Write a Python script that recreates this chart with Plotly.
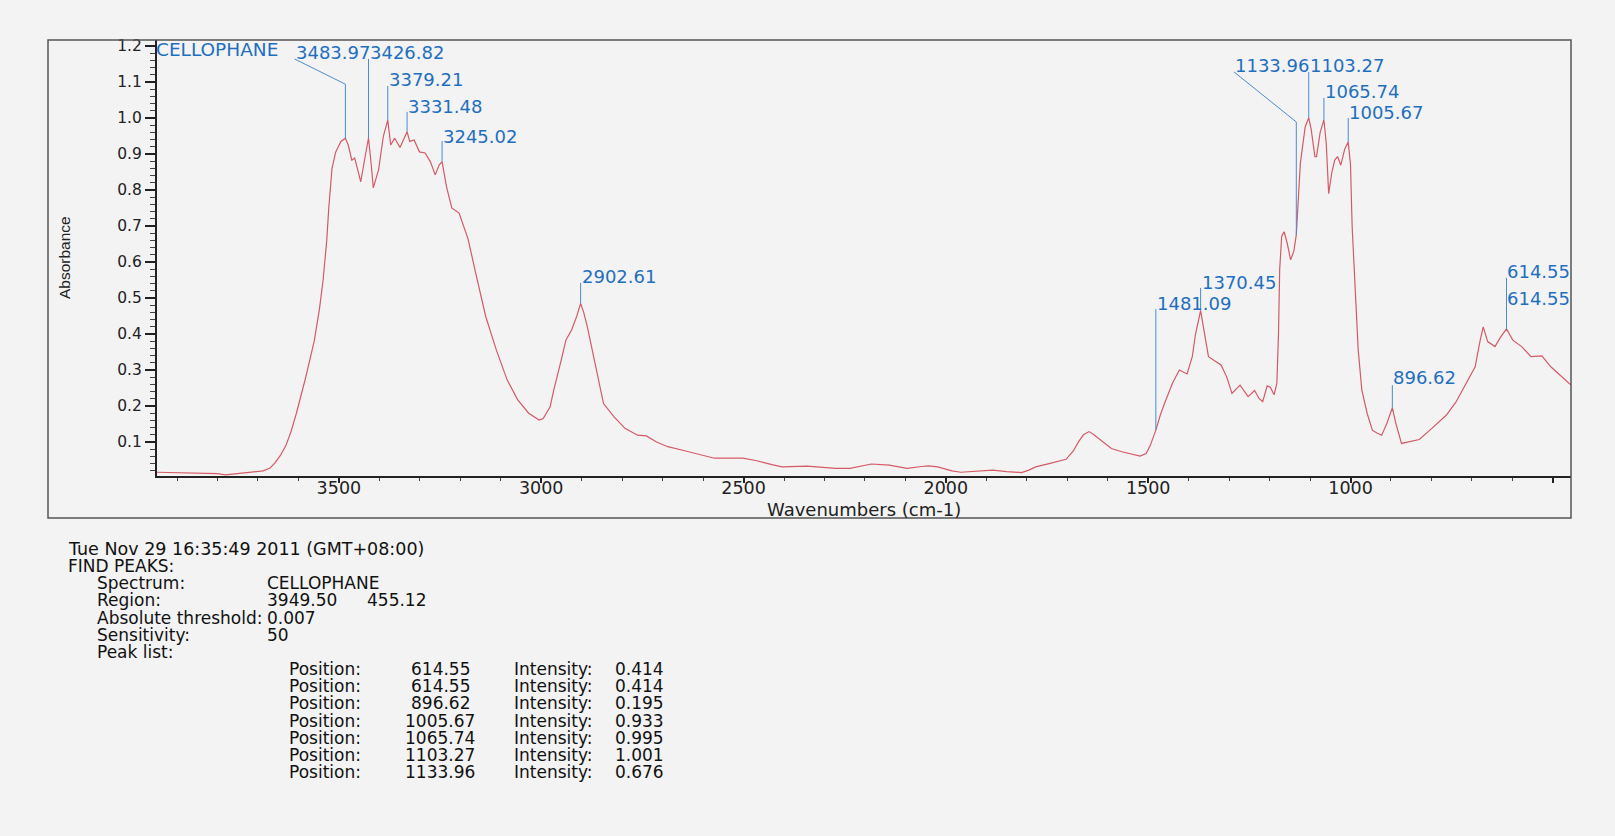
import plotly.graph_objects as go

# ---------------- data ----------------
wavenumber = [3949.5, 3900, 3850, 3800, 3780, 3760, 3737, 3700, 3687, 3670, 3658, 3645, 3631, 3618, 3605,
              3583, 3561, 3548, 3539, 3530, 3525, 3517, 3508, 3495, 3483.97, 3477, 3468, 3461, 3446, 3434,
              3426.82, 3420, 3415, 3402, 3390, 3379.21, 3372, 3362, 3349, 3340, 3331.48, 3325, 3314, 3301,
              3287, 3274, 3262, 3252, 3245.02, 3234, 3221, 3203, 3181, 3163, 3137, 3111, 3084, 3058, 3031,
              3005, 2995, 2978, 2969, 2950, 2939, 2925, 2912, 2902.61, 2895, 2886, 2868, 2846, 2820, 2793,
              2762, 2740, 2715, 2687, 2643, 2600, 2572, 2502, 2467, 2430, 2405, 2343, 2300, 2272, 2237,
              2210, 2184, 2140, 2110, 2096, 2060, 2043, 2020, 2007, 1985, 1963, 1930, 1884, 1850, 1813,
              1795, 1778, 1745, 1718, 1703, 1685, 1672, 1660, 1646, 1635, 1623, 1591, 1565, 1540, 1520,
              1505, 1495, 1481.09, 1470, 1458, 1440, 1423, 1404, 1391, 1383, 1370.45, 1364, 1351, 1335,
              1320, 1306, 1293, 1273, 1253, 1237, 1226, 1217, 1206, 1198, 1189, 1182, 1178, 1175, 1170,
              1164, 1156, 1148, 1140, 1133.96, 1124, 1112, 1103.27, 1097, 1088, 1084, 1075, 1065.74, 1060,
              1054, 1046, 1039, 1032, 1024, 1014, 1005.67, 1000, 996, 990, 985, 981, 972, 959, 946, 935,
              923, 910, 896.62, 888, 874, 852, 830, 799, 763, 740, 714, 692, 680, 672, 661, 643, 630,
              614.55, 599, 577, 554, 540, 527, 505, 479, 455.12]
absorbance = [0.016, 0.015, 0.015, 0.012, 0.009, 0.011, 0.015, 0.017, 0.020, 0.028, 0.042, 0.062, 0.090, 0.130, 0.180,
              0.275, 0.380, 0.470, 0.550, 0.660, 0.750, 0.860, 0.905, 0.935, 0.944, 0.925, 0.883, 0.889, 0.823, 0.900,
              0.944, 0.870, 0.806, 0.856, 0.950, 0.994, 0.925, 0.944, 0.918, 0.940, 0.962, 0.935, 0.939, 0.906,
              0.903, 0.879, 0.842, 0.870, 0.879, 0.809, 0.750, 0.736, 0.665, 0.575, 0.448, 0.356, 0.272, 0.217, 0.180,
              0.161, 0.165, 0.198, 0.244, 0.330, 0.383, 0.411, 0.450, 0.485, 0.460, 0.420, 0.328, 0.207, 0.170, 0.138,
              0.119, 0.117, 0.100, 0.087, 0.075, 0.062, 0.055, 0.055, 0.048, 0.037, 0.031, 0.033, 0.030, 0.027, 0.027,
              0.034, 0.039, 0.036, 0.030, 0.027, 0.032, 0.034, 0.031, 0.027, 0.020, 0.016, 0.018, 0.022, 0.018, 0.015,
              0.022, 0.031, 0.040, 0.047, 0.052, 0.075, 0.101, 0.120, 0.129, 0.121, 0.110, 0.082, 0.073, 0.066, 0.061,
              0.068, 0.090, 0.133, 0.175, 0.212, 0.263, 0.300, 0.289, 0.337, 0.400, 0.465, 0.420, 0.337, 0.325,
              0.314, 0.281, 0.235, 0.258, 0.226, 0.243, 0.221, 0.212, 0.256, 0.252, 0.231, 0.263, 0.400, 0.580, 0.672,
              0.684, 0.650, 0.606, 0.630, 0.676, 0.874, 0.975, 1.001, 0.967, 0.893, 0.893, 0.960, 0.995, 0.930,
              0.790, 0.850, 0.883, 0.893, 0.869, 0.915, 0.933, 0.870, 0.700, 0.550, 0.450, 0.356, 0.244, 0.180, 0.133, 0.125,
              0.119, 0.152, 0.195, 0.152, 0.096, 0.101, 0.107, 0.138, 0.175, 0.210, 0.263, 0.309, 0.380, 0.420, 0.379, 0.365, 0.390,
              0.414, 0.383, 0.365, 0.337, 0.338, 0.339, 0.309, 0.281, 0.258]

peak_pos = [3483.97, 3426.82, 3379.21, 3331.48, 3245.02, 2902.61, 1481.09, 1370.45,
            1133.96, 1103.27, 1065.74, 1005.67, 896.62, 614.55, 614.55]
peak_int = [0.944, 0.944, 0.994, 0.962, 0.879, 0.485, 0.133, 0.465,
            0.676, 1.001, 0.995, 0.933, 0.195, 0.414, 0.414]

x_tick_vals = [3500, 3000, 2500, 2000, 1500, 1000, 500]
x_tick_text = ["3500", "3000", "2500", "2000", "1500", "1000", ""]
y_tick_vals = [0.1, 0.2, 0.3, 0.4, 0.5, 0.6, 0.7, 0.8, 0.9, 1.0, 1.1, 1.2]
y_tick_text = ["0.1", "0.2", "0.3", "0.4", "0.5", "0.6", "0.7", "0.8", "0.9", "1.0", "1.1", "1.2"]

spectrum_name = "CELLOPHANE"
timestamp = "Tue Nov 29 16:35:49 2011 (GMT+08:00)"
region = ["3949.50", "455.12"]
threshold = "0.007"
sensitivity = "50"
table_pos = ["614.55", "614.55", "896.62", "1005.67", "1065.74", "1103.27", "1133.96"]
table_int = ["0.414", "0.414", "0.195", "0.933", "0.995", "1.001", "0.676"]

# ---------------- layout parameters (label placement) ----------------
label_x = [3609.5, 3426.82, 3379.21, 3331.48, 3245.02, 2902.61, 1481.09, 1370.45,
           1287.9, 1103.27, 1065.74, 1005.67, 896.62, 614.55, 614.55]
label_y = [1.181, 1.181, 1.106, 1.031, 0.950, 0.559, 0.486, 0.5425,
           1.147, 1.147, 1.073, 1.014, 0.278, 0.573, 0.500]
leader_top = [1.164, 1.164, 1.089, 1.017, 0.936, 0.542, 0.469, 0.528,
              1.128, 1.128, 1.056, 1.000, 0.258, 0.556, None]
leader_elbow = [1.094, None, None, None, None, None, None, None,
                0.989, None, None, None, None, None, None]

W, H = 1615, 836
L, R, T, B = 157, 1571, 40, 476
X_RANGE = [3949.5, 455.12]
Y_RANGE = [0.0056, 1.2167]

FONT = "DejaVu Sans"
BLUE = "#1f6fbf"
LEADER = "#4a8ccf"
BG = "#f3f3f3"


def px_x(X):
    return (X - L) / (R - L)


def px_y(Y):
    return (B - Y) / (B - T)


fig = go.Figure()
fig.add_trace(go.Scatter(x=wavenumber, y=absorbance, mode="lines",
                         line=dict(color="#d45a66", width=1.2),
                         showlegend=False, hoverinfo="x+y"))

shapes = []
annotations = []

shapes.append(dict(type="rect", xref="paper", yref="paper",
                   x0=px_x(48), x1=1, y0=px_y(518), y1=1,
                   line=dict(color="#555555", width=1.5), fillcolor="rgba(0,0,0,0)"))

for p, v, lx, ly, top, elb in zip(peak_pos, peak_int, label_x, label_y, leader_top, leader_elbow):
    if top is not None:
        if elb is None:
            shapes.append(dict(type="line", xref="x", yref="y", x0=p, x1=p, y0=top, y1=v,
                               line=dict(color=LEADER, width=1)))
        else:
            shapes.append(dict(type="path", xref="x", yref="y",
                               path=f"M {lx},{top} L {p},{elb} L {p},{v}",
                               line=dict(color=LEADER, width=1)))
    annotations.append(dict(x=lx, y=ly, xref="x", yref="y", text=f"{p:.2f}",
                            showarrow=False, xanchor="left", yanchor="middle",
                            borderpad=0, font=dict(family=FONT, size=18, color=BLUE)))

annotations.append(dict(x=px_x(155), y=px_y(50), xref="paper", yref="paper", text=spectrum_name,
                        showarrow=False, xanchor="left", yanchor="middle", borderpad=0,
                        font=dict(family=FONT, size=18.5, color=BLUE)))

annotations.append(dict(x=px_x(64), y=px_y(258), xref="paper", yref="paper", text="Absorbance",
                        textangle=-90, showarrow=False, xanchor="center", yanchor="middle",
                        font=dict(family="Liberation Sans", size=15.5, color="#222222")))
annotations.append(dict(x=px_x(864), y=px_y(509), xref="paper", yref="paper", text="Wavenumbers (cm-1)",
                        showarrow=False, xanchor="center", yanchor="middle",
                        font=dict(family=FONT, size=18, color="#222222")))


def txt(X, Y, s, anchor="left", size=17):
    annotations.append(dict(x=px_x(X), y=px_y(Y), xref="paper", yref="paper", text=s,
                            showarrow=False, xanchor=anchor, yanchor="middle", borderpad=0,
                            font=dict(family=FONT, size=size, color="#111111")))


txt(67, 549, timestamp, size=17.5)
txt(67, 566, "FIND PEAKS:")
txt(96, 583, "Spectrum:")
txt(266, 583, spectrum_name)
txt(96, 600, "Region:")
txt(266, 600, region[0])
txt(366, 600, region[1])
txt(96, 618, "Absolute threshold:")
txt(266, 618, threshold)
txt(96, 635, "Sensitivity:")
txt(266, 635, sensitivity)
txt(96, 652, "Peak list:")
for i, (pp, ii) in enumerate(zip(table_pos, table_int)):
    Y = 669 + i * 17.2
    txt(288, Y, "Position:")
    txt(440, Y, pp, anchor="center")
    txt(513, Y, "Intensity:")
    txt(614, Y, ii)

fig.update_layout(
    width=W, height=H,
    margin=dict(l=L, r=W - R, t=T, b=H - B, pad=0),
    paper_bgcolor=BG, plot_bgcolor=BG,
    shapes=shapes, annotations=annotations,
    showlegend=False,
    xaxis=dict(range=X_RANGE, showgrid=False, zeroline=False, showline=True,
               linecolor="#222222", linewidth=2, mirror=False,
               ticks="outside", ticklen=5, tickwidth=1.5, tickcolor="#222222",
               ticklabelstandoff=-10,
               tickmode="array", tickvals=x_tick_vals, ticktext=x_tick_text,
               tickfont=dict(family=FONT, size=17.5, color="#222222"),
               minor=dict(tickmode="linear", tick0=0, dtick=100, ticks="outside",
                          ticklen=3, tickwidth=1, tickcolor="#444444", showgrid=False)),
    yaxis=dict(range=Y_RANGE, showgrid=False, zeroline=False, showline=True,
               linecolor="#222222", linewidth=2, mirror=False,
               ticks="outside", ticklen=10, tickwidth=1.5, tickcolor="#222222",
               tickmode="array", tickvals=y_tick_vals, ticktext=y_tick_text,
               tickfont=dict(family=FONT, size=15.5, color="#222222"),
               minor=dict(tickmode="linear", tick0=0, dtick=0.02, ticks="outside",
                          ticklen=5, tickwidth=1, tickcolor="#444444", showgrid=False)),
)

fig.write_html("out.html")
